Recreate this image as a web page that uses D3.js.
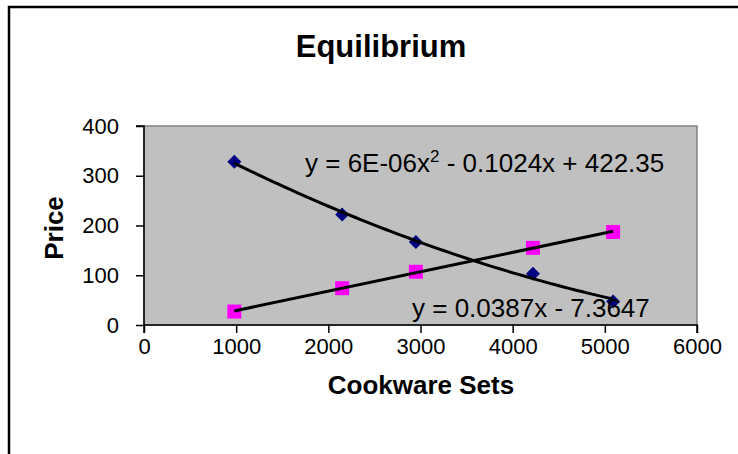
<!DOCTYPE html>
<html><head><meta charset="utf-8">
<script src="https://cdn.jsdelivr.net/npm/d3@7"></script>
<style>body{margin:0;background:#fff}svg{display:block;font-family:Arial,"Liberation Sans",sans-serif}</style>
</head><body>
<svg id="c" width="738" height="454"></svg>
<script>
const title = "Equilibrium";
const xLabel = "Cookware Sets";
const yLabel = "Price";
const cookwareSets = [980, 2150, 2950, 4220, 5090];
const demandPrice = [328, 222, 167, 103, 47];
const supplyPrice = [27, 74, 107, 155, 187];
const xTicks = [0, 1000, 2000, 3000, 4000, 5000, 6000];
const yTicks = [0, 100, 200, 300, 400];
const demandEqParts = ["y = 6E-06x", "2", " - 0.1024x + 422.35"];
const supplyEq = "y = 0.0387x - 7.3647";

const svg = d3.select("#c");
const L = 144, R = 697, T = 126, B = 325;
const x = d3.scaleLinear().domain([0, 6000]).range([L, R]);
const y = d3.scaleLinear().domain([0, 400]).range([B, T]);

// outer chart border
svg.append("rect").attr("x", 9).attr("y", 7).attr("width", 900).attr("height", 600)
  .attr("fill", "none").attr("stroke", "#000").attr("stroke-width", 2.5);

// plot area
svg.append("rect").attr("x", L).attr("y", T).attr("width", R - L).attr("height", B - T)
  .attr("fill", "#c0c0c0").attr("stroke", "#808080").attr("stroke-width", 1.5);

// axes
const yAxis = svg.append("g").attr("transform", `translate(${L},0)`)
  .call(d3.axisLeft(y).tickValues(yTicks).tickSize(8).tickPadding(17).tickFormat(d3.format("d")));
const xAxis = svg.append("g").attr("transform", `translate(0,${B})`)
  .call(d3.axisBottom(x).tickValues(xTicks).tickSize(8).tickPadding(5).tickFormat(d3.format("d")));
[yAxis, xAxis].forEach(g => {
  g.select(".domain").attr("stroke", "#000").attr("stroke-width", 1.5);
  g.selectAll(".tick line").attr("stroke", "#000").attr("stroke-width", 1.5);
  g.selectAll(".tick text").attr("font-size", 22).attr("fill", "#000")
    .attr("font-family", "Arial, 'Liberation Sans', sans-serif");
});
yAxis.select(".domain").attr("d", `M-8,${T}H0V${B}`);
xAxis.select(".domain").attr("d", `M${L},8V0H${R}V8`);

// markers
const ptsD = cookwareSets.map((v, i) => [v, demandPrice[i]]);
const ptsS = cookwareSets.map((v, i) => [v, supplyPrice[i]]);
svg.append("g").selectAll("path").data(ptsD).join("path")
  .attr("transform", d => `translate(${x(d[0])},${y(d[1])})`)
  .attr("d", "M0,-7L7,0L0,7L-7,0Z").attr("fill", "#000080");
svg.append("g").selectAll("rect").data(ptsS).join("rect")
  .attr("x", d => x(d[0]) - 7).attr("y", d => y(d[1]) - 7)
  .attr("width", 14).attr("height", 14).attr("fill", "#ff00ff");

// least squares fits computed from the data
function polyFit(xs, ys, deg) {
  const n = deg + 1;
  const A = Array.from({length: n}, () => new Array(n + 1).fill(0));
  xs.forEach((xv, k) => {
    for (let i = 0; i < n; i++) {
      for (let j = 0; j < n; j++) A[i][j] += Math.pow(xv, i + j);
      A[i][n] += ys[k] * Math.pow(xv, i);
    }
  });
  for (let c = 0; c < n; c++) {
    let p = c;
    for (let r = c + 1; r < n; r++) if (Math.abs(A[r][c]) > Math.abs(A[p][c])) p = r;
    [A[c], A[p]] = [A[p], A[c]];
    for (let r = 0; r < n; r++) if (r !== c) {
      const f = A[r][c] / A[c][c];
      for (let k = c; k <= n; k++) A[r][k] -= f * A[c][k];
    }
  }
  return A.map((row, i) => row[n] / row[i]);
}
const cD = polyFit(cookwareSets, demandPrice, 2);
const cS = polyFit(cookwareSets, supplyPrice, 1);
const evalP = (c, v) => c.reduce((s, a, i) => s + a * Math.pow(v, i), 0);
const x0 = d3.min(cookwareSets), x1 = d3.max(cookwareSets);
const line = d3.line().x(d => x(d[0])).y(d => y(d[1]));
const samples = d3.range(0, 61).map(i => x0 + (x1 - x0) * i / 60);
svg.append("path").attr("d", line(samples.map(v => [v, evalP(cD, v)])))
  .attr("fill", "none").attr("stroke", "#000").attr("stroke-width", 3);
svg.append("path").attr("d", line([[x0, evalP(cS, x0)], [x1, evalP(cS, x1)]]))
  .attr("fill", "none").attr("stroke", "#000").attr("stroke-width", 3);

// equation labels
const eq1 = svg.append("text").attr("x", 305).attr("y", 172).attr("font-size", 26).attr("fill", "#000");
eq1.append("tspan").text(demandEqParts[0]);
eq1.append("tspan").attr("dy", -10).attr("font-size", 17).text(demandEqParts[1]);
eq1.append("tspan").attr("dy", 10).text(demandEqParts[2]);
svg.append("text").attr("x", 412).attr("y", 317).attr("font-size", 26).attr("fill", "#000").text(supplyEq);

// titles
svg.append("text").attr("x", 381).attr("y", 57).attr("text-anchor", "middle")
  .attr("font-size", 31).attr("font-weight", "bold").text(title);
svg.append("text").attr("x", 421).attr("y", 394).attr("text-anchor", "middle")
  .attr("font-size", 26).attr("font-weight", "bold").text(xLabel);
svg.append("text").attr("transform", "translate(63,228) rotate(-90)").attr("text-anchor", "middle")
  .attr("font-size", 26).attr("font-weight", "bold").text(yLabel);
</script>
</body></html>
